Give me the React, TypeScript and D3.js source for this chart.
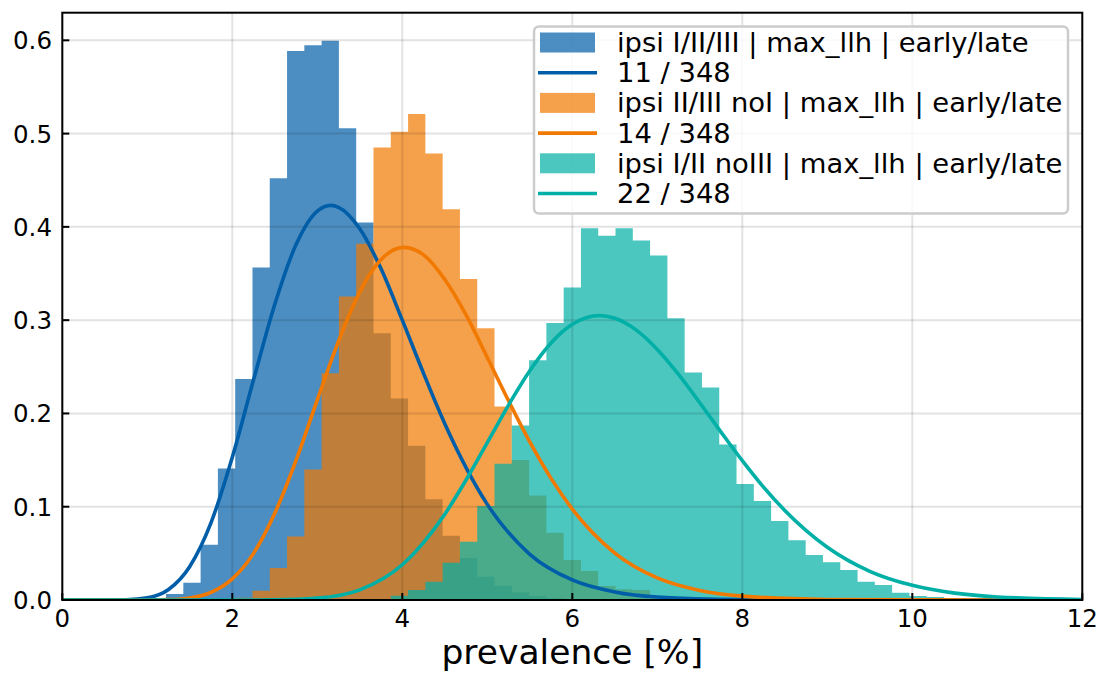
import React from "react";
import * as d3 from "d3";

// ---- data ----
const BIN_WIDTH = 12 / 59; // shared histogram bins (percent)
const xTicks = [0, 2, 4, 6, 8, 10, 12];
const yTicks = [0.0, 0.1, 0.2, 0.3, 0.4, 0.5, 0.6];

const blueStart = 5;
const blueHist = [0.002, 0.0064, 0.0186, 0.0593, 0.141, 0.2368, 0.3565, 0.452, 0.5886, 0.5946, 0.5996, 0.5057, 0.4047, 0.286, 0.216, 0.1654, 0.108, 0.069, 0.045, 0.025, 0.0154, 0.008, 0.004, 0.002, 0.001];
const orangeStart = 9;
const orangeHist = [0.001, 0.0025, 0.01, 0.0343, 0.068, 0.14, 0.243, 0.3254, 0.3818, 0.485, 0.502, 0.521, 0.4786, 0.419, 0.344, 0.2914, 0.2075, 0.15, 0.112, 0.072, 0.043, 0.031, 0.015, 0.0114, 0.0107, 0.003, 0.002];
const tealStart = 18;
const tealHist = [0.001, 0.0046, 0.0107, 0.0196, 0.04, 0.0625, 0.1007, 0.146, 0.187, 0.257, 0.297, 0.335, 0.3986, 0.3904, 0.3986, 0.3854, 0.3693, 0.3021, 0.244, 0.2279, 0.1668, 0.1243, 0.1061, 0.0846, 0.064, 0.0482, 0.0404, 0.0321, 0.0196, 0.016, 0.0079, 0.0043, 0.0032, 0.002, 0.001];

const blueCurve: [number, number][] = [[0, 0], [0.5, 0], [0.75, 0.0002], [1.0, 0.0023], [1.25, 0.0113], [1.5, 0.036], [1.75, 0.083], [2.0, 0.153], [2.25, 0.236], [2.5, 0.317], [2.75, 0.381], [3.0, 0.417], [3.16, 0.423], [3.25, 0.421], [3.5, 0.398], [3.75, 0.355], [4.0, 0.3], [4.25, 0.243], [4.5, 0.189], [4.75, 0.142], [5.0, 0.1025], [5.5, 0.049], [6.0, 0.0215], [6.5, 0.0086], [7.0, 0.0032], [8.0, 0.0004], [9.0, 0], [12, 0]];
const orangeCurve: [number, number][] = [[0, 0], [1.0, 0], [1.25, 0.0004], [1.5, 0.0022], [1.75, 0.0082], [2.0, 0.0226], [2.25, 0.05], [2.5, 0.093], [2.75, 0.1496], [3.0, 0.2145], [3.25, 0.2776], [3.5, 0.3304], [3.75, 0.365], [4.02, 0.378], [4.25, 0.37], [4.5, 0.3436], [4.75, 0.3056], [5.0, 0.26], [5.25, 0.2136], [5.5, 0.1695], [5.75, 0.1304], [6.0, 0.0974], [6.5, 0.0503], [7.0, 0.0237], [7.5, 0.0103], [8.0, 0.0042], [9.0, 0.0006], [10.0, 0.0001], [12, 0]];
const tealCurve: [number, number][] = [[0, 0], [2.0, 0], [2.5, 0.0002], [3.0, 0.002], [3.5, 0.0109], [4.0, 0.0378], [4.5, 0.092], [4.75, 0.1286], [5.0, 0.1687], [5.25, 0.209], [5.5, 0.2457], [5.75, 0.2755], [6.0, 0.2955], [6.32, 0.305], [6.5, 0.302], [6.75, 0.2896], [7.0, 0.2686], [7.25, 0.2418], [7.5, 0.2114], [7.75, 0.18], [8.0, 0.1494], [8.25, 0.121], [8.5, 0.096], [9.0, 0.0566], [9.5, 0.0308], [10.0, 0.0157], [10.5, 0.0074], [11.0, 0.0033], [12, 0.0006]];

const seriesLabels = [
  "ipsi I/II/III | max_llh | early/late",
  "ipsi II/III noI | max_llh | early/late",
  "ipsi I/II noIII | max_llh | early/late",
];
const curveLabels = ["11 / 348", "14 / 348", "22 / 348"];
const colors = ["#005ea8", "#f17900", "#00afa5"];

// ---- layout ----
const W = 1103;
const H = 675;
const X0 = 62.3, X1 = 1082.3, Y0 = 600, Y1 = 12.7;
const FONT = "'DejaVu Sans', sans-serif";

export default function App() {
  const xs = d3.scaleLinear().domain([0, 12]).range([X0, X1]);
  const ys = d3.scaleLinear().domain([0, 0.6296]).range([Y0, Y1]);

  const hists = [
    { start: blueStart, vals: blueHist },
    { start: orangeStart, vals: orangeHist },
    { start: tealStart, vals: tealHist },
  ];
  const curves = [blueCurve, orangeCurve, tealCurve];

  const area = d3
    .area<{ x: number; y: number }>()
    .x((d) => xs(d.x))
    .y0(ys(0))
    .y1((d) => ys(d.y))
    .curve(d3.curveStepAfter);

  const line = d3
    .line<[number, number]>()
    .x((d) => xs(d[0]))
    .y((d) => ys(d[1]))
    .curve(d3.curveMonotoneX);

  const histPath = (h: { start: number; vals: number[] }) => {
    const pts = h.vals.map((v, i) => ({ x: (h.start + i) * BIN_WIDTH, y: v }));
    pts.push({ x: (h.start + h.vals.length) * BIN_WIDTH, y: h.vals[h.vals.length - 1] });
    return area(pts) || "";
  };

  // legend
  const lgX = 534, lgY = 26.5, lgW = 534, lgH = 187;
  const rowGap = 30.2;
  const row0 = 42.5;

  return (
    <svg
      width={W}
      height={H}
      viewBox={`0 0 ${W} ${H}`}
      style={{ position: "absolute", left: 0, top: 0, display: "block", background: "#fff" }}
      fontFamily={FONT}
    >
      <rect x={0} y={0} width={W} height={H} fill="#fff" />
      <defs>
        <clipPath id="plotclip">
          <rect x={X0} y={Y1} width={X1 - X0} height={Y0 - Y1} />
        </clipPath>
      </defs>
      <g clipPath="url(#plotclip)">
        {hists.map((h, i) => (
          <path key={"h" + i} d={histPath(h)} fill={colors[i]} fillOpacity={0.7} stroke="none" />
        ))}
        {xTicks.map((t) => (
          <line key={"gx" + t} x1={xs(t)} x2={xs(t)} y1={Y1} y2={Y0} stroke="#000" strokeOpacity={0.11} strokeWidth={2} />
        ))}
        {yTicks.map((t) => (
          <line key={"gy" + t} x1={X0} x2={X1} y1={ys(t)} y2={ys(t)} stroke="#000" strokeOpacity={0.11} strokeWidth={2} />
        ))}
        {curves.map((c, i) => (
          <path key={"c" + i} d={line(c) || ""} fill="none" stroke={colors[i]} strokeWidth={3.6} />
        ))}
      </g>
      {/* ticks */}
      {xTicks.map((t) => (
        <g key={"tx" + t}>
          <line x1={xs(t)} x2={xs(t)} y1={Y0} y2={Y0 - 7} stroke="#000" strokeWidth={2} />
          <text x={xs(t)} y={627} textAnchor="middle" fontSize={24.5} fill="#000">
            {String(t)}
          </text>
        </g>
      ))}
      {yTicks.map((t) => (
        <g key={"ty" + t}>
          <line x1={X0} x2={X0 + 7} y1={ys(t)} y2={ys(t)} stroke="#000" strokeWidth={2} />
          <text x={52} y={ys(t) + 9} textAnchor="end" fontSize={24.5} fill="#000">
            {t.toFixed(1)}
          </text>
        </g>
      ))}
      {/* frame */}
      <rect x={X0} y={Y1} width={X1 - X0} height={Y0 - Y1} fill="none" stroke="#000" strokeWidth={2} />
      {/* x label */}
      <text x={(X0 + X1) / 2} y={664} textAnchor="middle" fontSize={34.5} fill="#000">
        prevalence [%]
      </text>
      {/* legend */}
      <rect x={lgX} y={lgY} width={lgW} height={lgH} rx={5} ry={5} fill="#fff" fillOpacity={0.8} stroke="#cccccc" strokeWidth={2.5} />
      {colors.map((c, i) => {
        const yPatch = row0 + rowGap * (2 * i);
        const yLine = row0 + rowGap * (2 * i + 1);
        return (
          <g key={"lg" + i}>
            <rect x={540} y={yPatch - 10} width={55} height={20} fill={c} fillOpacity={0.7} />
            <text x={617} y={yPatch + 9.5} fontSize={27.4} fill="#000">
              {seriesLabels[i]}
            </text>
            <line x1={538} x2={597} y1={yLine} y2={yLine} stroke={c} strokeWidth={3.6} />
            <text x={617} y={yLine + 9.5} fontSize={27.4} fill="#000">
              {curveLabels[i]}
            </text>
          </g>
        );
      })}
    </svg>
  );
}
